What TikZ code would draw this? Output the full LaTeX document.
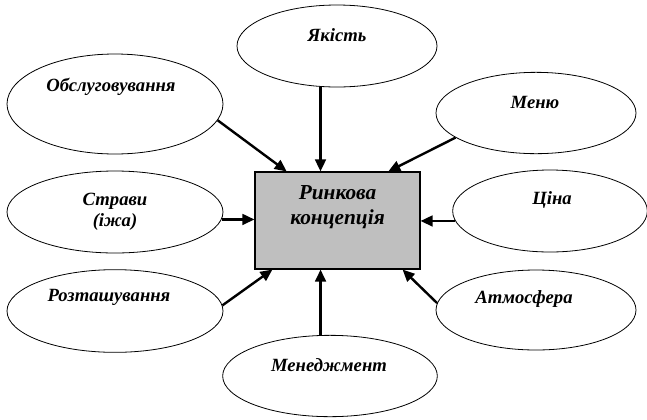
\documentclass[tikz,border=0pt]{standalone}
\usepackage{fontspec}
\setmainfont{Liberation Serif}
\usetikzlibrary{arrows.meta,shapes.geometric}

\begin{document}
\begin{tikzpicture}[x=0.75pt,y=-0.75pt,font=\bfseries\itshape\fontsize{14}{16}\selectfont,
factor/.style={draw,ellipse,inner sep=0pt,line width=0.6pt},
core/.style={draw,fill=black!25,line width=0.8pt,minimum width=123.75pt,minimum height=72.75pt},
ftext/.style={inner sep=0pt,align=center},
infl/.style={line width=1.8pt,-{Triangle[length=9pt,width=8pt]}}]
\useasboundingbox (0,0) rectangle (647,419);
% central box
\node[core] (box) at (337.5,220.5) {};
\node[ftext,font=\bfseries\itshape\fontsize{16}{19}\selectfont] (boxt) at (337.5,207) {Ринкова\\концепція};
% factors
\node[factor,minimum width=150pt,minimum height=61.5pt] (jak) at (337,46) {};
\node[ftext] (jakt) at (337,35) {Якість};
\node[factor,minimum width=162pt,minimum height=75pt] (obs) at (115,104) {};
\node[ftext] (obst) at (111,87) {Обслуговування};
\node[factor,minimum width=150pt,minimum height=61pt] (menu) at (536,113) {};
\node[ftext] (menut) at (535,102) {Меню};
\node[factor,minimum width=146pt,minimum height=61.5pt] (cina) at (550,211) {};
\node[ftext] (cinat) at (552,200) {Ціна};
\node[factor,minimum width=162pt,minimum height=61.5pt] (str) at (115,212) {};
\node[ftext] (strt) at (115,212) {Страви\\(іжа)};
\node[factor,minimum width=150pt,minimum height=60pt] (atm) at (536,310) {};
\node[ftext] (atmt) at (524,299) {Атмосфера};
\node[factor,minimum width=162pt,minimum height=62pt] (roz) at (115,311) {};
\node[ftext] (rozt) at (109,297) {Розташування};
\node[factor,minimum width=161pt,minimum height=61pt] (men) at (330,376) {};
\node[ftext] (ment) at (329,365) {Менеджмент};
% arrows
\draw[infl] (obs.-9.5) -- (box.136);
\draw[infl] (jak.-112) -- (jak.-112 |- box.north);
\draw[infl] (menu.197) -- (box.44);
\draw[infl] (cina.186) -- (cina.186 -| box.east);
\draw[infl] (str.-4.8) -- (str.-4.8 -| box.west);
\draw[infl] (atm.176.6) -- (box.-37);
\draw[infl] (roz.3.7) -- (box.217.6);
\draw[infl] (men.103) -- (men.103 |- box.south);
\end{tikzpicture}
\end{document}
